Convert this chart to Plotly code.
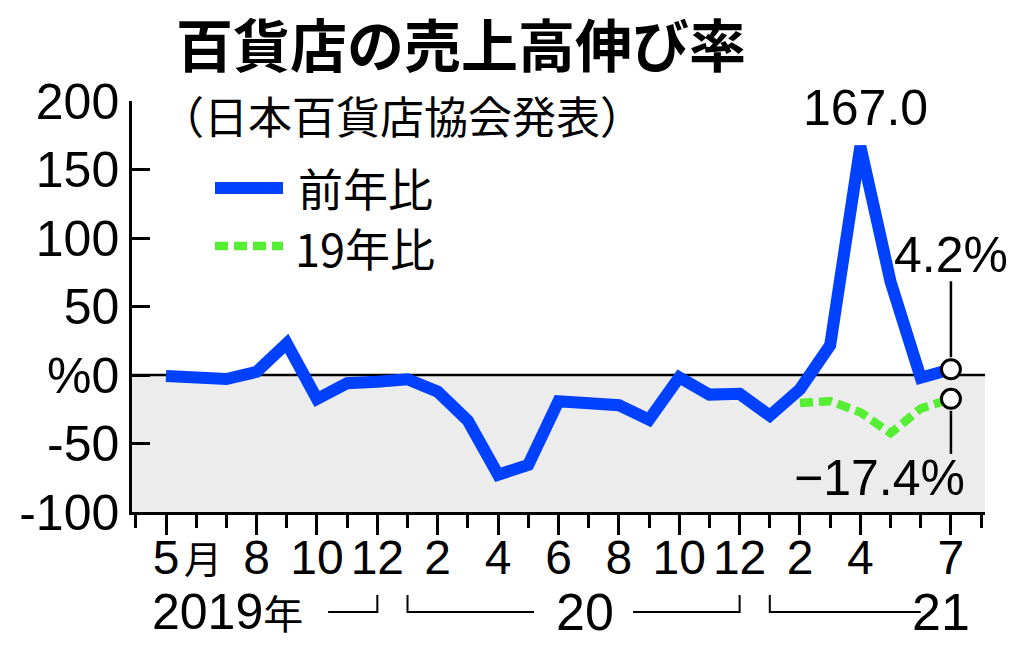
import plotly.graph_objects as go

# ---------------- data ----------------
months = ["2019-05", "2019-06", "2019-07", "2019-08", "2019-09", "2019-10", "2019-11", "2019-12",
          "2020-01", "2020-02", "2020-03", "2020-04", "2020-05", "2020-06", "2020-07", "2020-08",
          "2020-09", "2020-10", "2020-11", "2020-12", "2021-01", "2021-02", "2021-03", "2021-04",
          "2021-05", "2021-06", "2021-07"]
yoy = [-0.8, -0.9, -2.9, 2.3, 23.1, -17.5, -6.0, -5.0,
       -3.1, -12.2, -33.4, -72.8, -65.6, -19.1, -20.1, -22.0,
       -32.6, -1.7, -14.3, -13.7, -29.7, -10.4, 21.8, 167.0,
       68.1, -2.0, 4.2]
vs2019_months = ["2021-02", "2021-03", "2021-04", "2021-05", "2021-06", "2021-07"]
vs2019 = [-20.5, -19.1, -27.2, -42.5, -24.5, -17.4]

tick_months = ["2019-05", "2019-08", "2019-10", "2019-12", "2020-02", "2020-04", "2020-06",
               "2020-08", "2020-10", "2020-12", "2021-02", "2021-04", "2021-07"]
tick_labels = ["5", "8", "10", "12", "2", "4", "6", "8", "10", "12", "2", "4", "7"]
y_ticks = [-100, -50, 0, 50, 100, 150, 200]
y_tick_labels = ["-100", "-50", "%0", "50", "100", "150", "200"]

# ---------------- helpers ----------------
idx = {m: i for i, m in enumerate(months)}
x_yoy = [idx[m] for m in months]
x_19 = [idx[m] for m in vs2019_months]

W, H = 1024, 648
ML, MR, MT, MB = 132, 39, 101, 136
PW, PH = W - ML - MR, H - MT - MB


def px(xp):
    return (xp - ML) / PW


def py(yp):
    return (H - MB - yp) / PH


BLUE = "#0040ff"
GREEN = "#55ee33"
NUMF = "Liberation Sans, Arial, sans-serif"
JP = "Noto Sans CJK JP, sans-serif"

fig = go.Figure()

fig.add_trace(go.Scatter(x=x_yoy, y=yoy, mode="lines", name="前年比",
                         line=dict(color=BLUE, width=12), showlegend=False))
fig.add_trace(go.Scatter(x=x_19, y=vs2019, mode="lines", name="19年比",
                         line=dict(color=GREEN, width=8.5, dash="13px,6px"), showlegend=False))
fig.add_trace(go.Scatter(x=[x_yoy[-1], x_19[-1]], y=[yoy[-1], vs2019[-1]], mode="markers",
                         marker=dict(symbol="circle", size=19, color="white",
                                     line=dict(color="black", width=3)),
                         showlegend=False, hoverinfo="skip"))

shapes = [
    dict(type="rect", xref="paper", yref="y", x0=0, x1=1, y0=-100, y1=0,
         fillcolor="#ececec", line=dict(width=0), layer="below"),
    dict(type="line", xref="paper", yref="y", x0=0, x1=1, y0=0, y1=0,
         line=dict(color="black", width=2.5), layer="below"),
    # leader lines from the end markers
    dict(type="line", xref="x", yref="y", ysizemode="pixel", yanchor=yoy[-1],
         x0=x_yoy[-1], x1=x_yoy[-1], y0=12, y1=88, line=dict(color="black", width=2.5)),
    dict(type="line", xref="x", yref="y", ysizemode="pixel", yanchor=vs2019[-1],
         x0=x_19[-1], x1=x_19[-1], y0=-12, y1=-55, line=dict(color="black", width=2.5)),
    # legend samples
    dict(type="line", xref="paper", yref="paper", x0=px(215), x1=px(283), y0=py(188), y1=py(188),
         line=dict(color=BLUE, width=12)),
    dict(type="line", xref="paper", yref="paper", x0=px(215), x1=px(283), y0=py(246), y1=py(246),
         line=dict(color=GREEN, width=8.5, dash="13px,6px")),
]

# year brackets under the axis
yb_top, yb_bot = py(595), py(612)
br = dict(color="black", width=2)
shapes += [
    dict(type="path", xref="x", yref="paper",
         path=f"M 5.37,{yb_bot} L {idx['2019-12']},{yb_bot} L {idx['2019-12']},{yb_top}", line=br),
    dict(type="path", xref="x", yref="paper",
         path=f"M {idx['2020-01']},{yb_top} L {idx['2020-01']},{yb_bot} L 12.19,{yb_bot}", line=br),
    dict(type="path", xref="x", yref="paper",
         path=f"M 15.47,{yb_bot} L {idx['2020-12']},{yb_bot} L {idx['2020-12']},{yb_top}", line=br),
    dict(type="path", xref="x", yref="paper",
         path=f"M {idx['2021-01']},{yb_top} L {idx['2021-01']},{yb_bot} L 25.0,{yb_bot}", line=br),
]

annotations = [
    dict(text="（日本百貨店協会発表）", xref="paper", yref="paper", x=px(158), y=py(115),
         xanchor="left", yanchor="middle", showarrow=False, font=dict(family=JP, size=44, color="black")),
    dict(text="前年比", xref="paper", yref="paper", x=px(296), y=py(187),
         xanchor="left", yanchor="middle", showarrow=False, font=dict(family=JP, size=45, color="black")),
    dict(text="19年比", xref="paper", yref="paper", x=px(293), y=py(247),
         xanchor="left", yanchor="middle", showarrow=False, font=dict(family=JP, size=45, color="black")),
    dict(text="167.0", xref="x", yref="y", x=idx["2021-04"], y=yoy[idx["2021-04"]], xshift=5, yshift=38,
         xanchor="center", yanchor="middle", showarrow=False, font=dict(family=NUMF, size=50, color="black")),
    dict(text="4.2%", xref="x", yref="y", x=x_yoy[-1], y=yoy[-1], xshift=0, yshift=114,
         xanchor="center", yanchor="middle", showarrow=False, font=dict(family=NUMF, size=50, color="black")),
    dict(text="−17.4%", xref="x", yref="y", x=x_19[-1], y=vs2019[-1], xshift=-71, yshift=-79,
         xanchor="center", yanchor="middle", showarrow=False, font=dict(family=NUMF, size=50, color="black")),
    # "月" after the first tick label
    dict(text="月", xref="paper", yref="paper", x=px(182), y=py(556),
         xanchor="left", yanchor="middle", showarrow=False, font=dict(family=JP, size=38, color="black")),
    # year row
    dict(text="2019<span style='font-family:Noto Sans CJK JP;font-size:40px'>年</span>",
         xref="paper", yref="paper", x=px(150), y=py(612),
         xanchor="left", yanchor="middle", showarrow=False, font=dict(family=NUMF, size=50, color="black")),
    dict(text="20", xref="paper", yref="paper", x=px(585), y=py(612),
         xanchor="center", yanchor="middle", showarrow=False, font=dict(family=NUMF, size=52, color="black")),
    dict(text="21", xref="paper", yref="paper", x=px(972), y=py(612),
         xanchor="right", yanchor="middle", showarrow=False, font=dict(family=NUMF, size=52, color="black")),
]

fig.update_layout(
    width=W, height=H,
    margin=dict(l=ML, r=MR, t=MT, b=MB, pad=0),
    paper_bgcolor="white", plot_bgcolor="white",
    title=dict(text="<b>百貨店の売上高伸び率</b>", x=176 / W, xanchor="left", xref="container",
               y=1 - 47 / H, yanchor="middle", yref="container",
               font=dict(family=JP, size=57, color="black")),
    shapes=shapes, annotations=annotations,
    showlegend=False,
    xaxis=dict(range=[-34 / 30.19, 819 / 30.19], showgrid=False, zeroline=False,
               showline=True, linecolor="black", linewidth=2.5,
               tickmode="array", tickvals=[idx[m] for m in tick_months], ticktext=tick_labels,
               ticks="outside", ticklen=20, tickwidth=2.5, tickcolor="black",
               minor=dict(ticks="outside", ticklen=13, tickwidth=2.5, tickcolor="black",
                          tick0=0, dtick=1, showgrid=False),
               tickfont=dict(family=NUMF, size=48, color="black"), ticklabelstandoff=-18),
    yaxis=dict(range=[-100, 200], showgrid=False, zeroline=False,
               showline=True, linecolor="black", linewidth=2.5,
               tickmode="array", tickvals=y_ticks, ticktext=y_tick_labels,
               ticks="inside", ticklen=18, tickwidth=2.5, tickcolor="black",
               tickfont=dict(family=NUMF, size=50, color="black"), ticklabelstandoff=0),
)

fig.write_html("out.html", config={"displayModeBar": False},
               post_script="document.body.style.margin='0px';")
